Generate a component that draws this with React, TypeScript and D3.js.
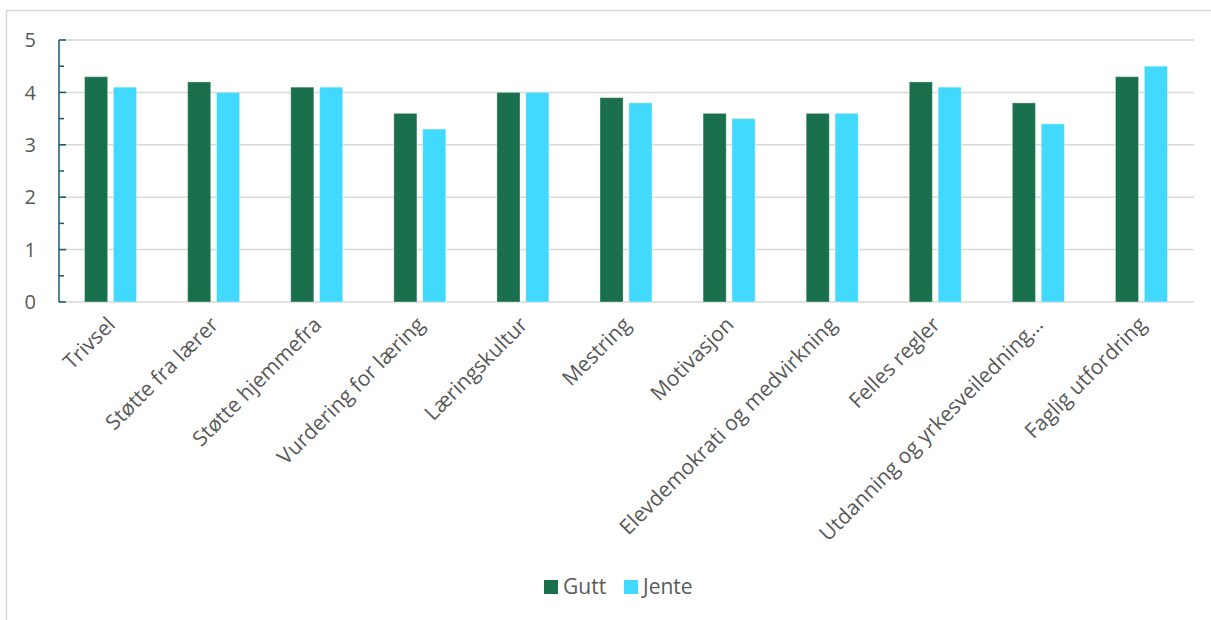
import React from "react";
import * as d3 from "d3";

const categories = [
  "Trivsel",
  "Støtte fra lærer",
  "Støtte hjemmefra",
  "Vurdering for læring",
  "Læringskultur",
  "Mestring",
  "Motivasjon",
  "Elevdemokrati og medvirkning",
  "Felles regler",
  "Utdanning og yrkesveiledning…",
  "Faglig utfordring",
];
const seriesNames = ["Gutt", "Jente"];
const gutt = [4.3, 4.2, 4.1, 3.6, 4.0, 3.9, 3.6, 3.6, 4.2, 3.8, 4.3];
const jente = [4.1, 4.0, 4.1, 3.3, 4.0, 3.8, 3.5, 3.6, 4.1, 3.4, 4.5];
const seriesValues = [gutt, jente];
const colors = ["#1a704c", "#41d9fd"];
const yTicks = [0, 1, 2, 3, 4, 5];
const yMinorTicks = [0.5, 1.5, 2.5, 3.5, 4.5];

const W = 1211;
const H = 620;
const left = 59;
const right = 1193;
const top = 40;
const bottom = 302;
const font = "'Open Sans', sans-serif";
const textColor = "#595959";

export default function App() {
  const x = d3.scaleBand<string>().domain(categories).range([left, right]).padding(0);
  const x1 = d3.scaleBand<string>().domain(seriesNames).range([-26, 26]).paddingInner(0.2);
  const y = d3.scaleLinear().domain([0, 5]).range([bottom, top]);
  const bw = x.bandwidth();

  return (
    <svg width={W} height={H} style={{ position: "absolute", left: 0, top: 0, background: "#fff" }}>
      <rect x={6.5} y={10.5} width={W + 10} height={H + 10} fill="#fff" stroke="#d9d9d9" strokeWidth={1.5} />
      {yTicks.map((t) => (
        <line key={"g" + t} x1={left} x2={right + 1} y1={y(t)} y2={y(t)} stroke="#d9d9d9" strokeWidth={1.5} />
      ))}
      {categories.map((c, i) => {
        const cx = (x(c) as number) + bw / 2;
        return seriesNames.map((s, j) => {
          const v = seriesValues[j][i];
          return (
            <rect
              key={c + s}
              x={cx + (x1(s) as number)}
              y={y(v)}
              width={x1.bandwidth()}
              height={y(0) - y(v)}
              fill={colors[j]}
              stroke="#ffffff"
              strokeOpacity={0.35}
              strokeWidth={1}
            />
          );
        });
      })}
      <line x1={left} x2={left} y1={top} y2={bottom} stroke="#14586a" strokeWidth={1.5} />
      {yTicks.map((t) => (
        <line key={"t" + t} x1={left} x2={left + 7} y1={y(t)} y2={y(t)} stroke="#14586a" strokeWidth={1.5} />
      ))}
      {yMinorTicks.map((t) => (
        <line key={"m" + t} x1={left} x2={left + 5} y1={y(t)} y2={y(t)} stroke="#14586a" strokeWidth={1.5} />
      ))}
      {yTicks.map((t) => (
        <text
          key={"l" + t}
          x={36}
          y={y(t)}
          dy="0.36em"
          textAnchor="end"
          fontFamily={font}
          fontSize={20}
          fill={textColor}
        >
          {t}
        </text>
      ))}
      {categories.map((c) => {
        const cx = (x(c) as number) + bw / 2;
        const ax = cx + 6;
        const ay = 326;
        return (
          <text
            key={"x" + c}
            x={ax}
            y={ay}
            transform={`rotate(-45 ${ax} ${ay})`}
            textAnchor="end"
            fontFamily={font}
            fontSize={21}
            fill={textColor}
          >
            {c}
          </text>
        );
      })}
      <g>
        <rect x={544} y={580} width={14} height={14} fill={colors[0]} />
        <text x={563} y={594} fontFamily={font} fontSize={21} fill={textColor}>
          {seriesNames[0]}
        </text>
        <rect x={624} y={580} width={14} height={14} fill={colors[1]} />
        <text x={643} y={594} fontFamily={font} fontSize={21} fill={textColor}>
          {seriesNames[1]}
        </text>
      </g>
    </svg>
  );
}
